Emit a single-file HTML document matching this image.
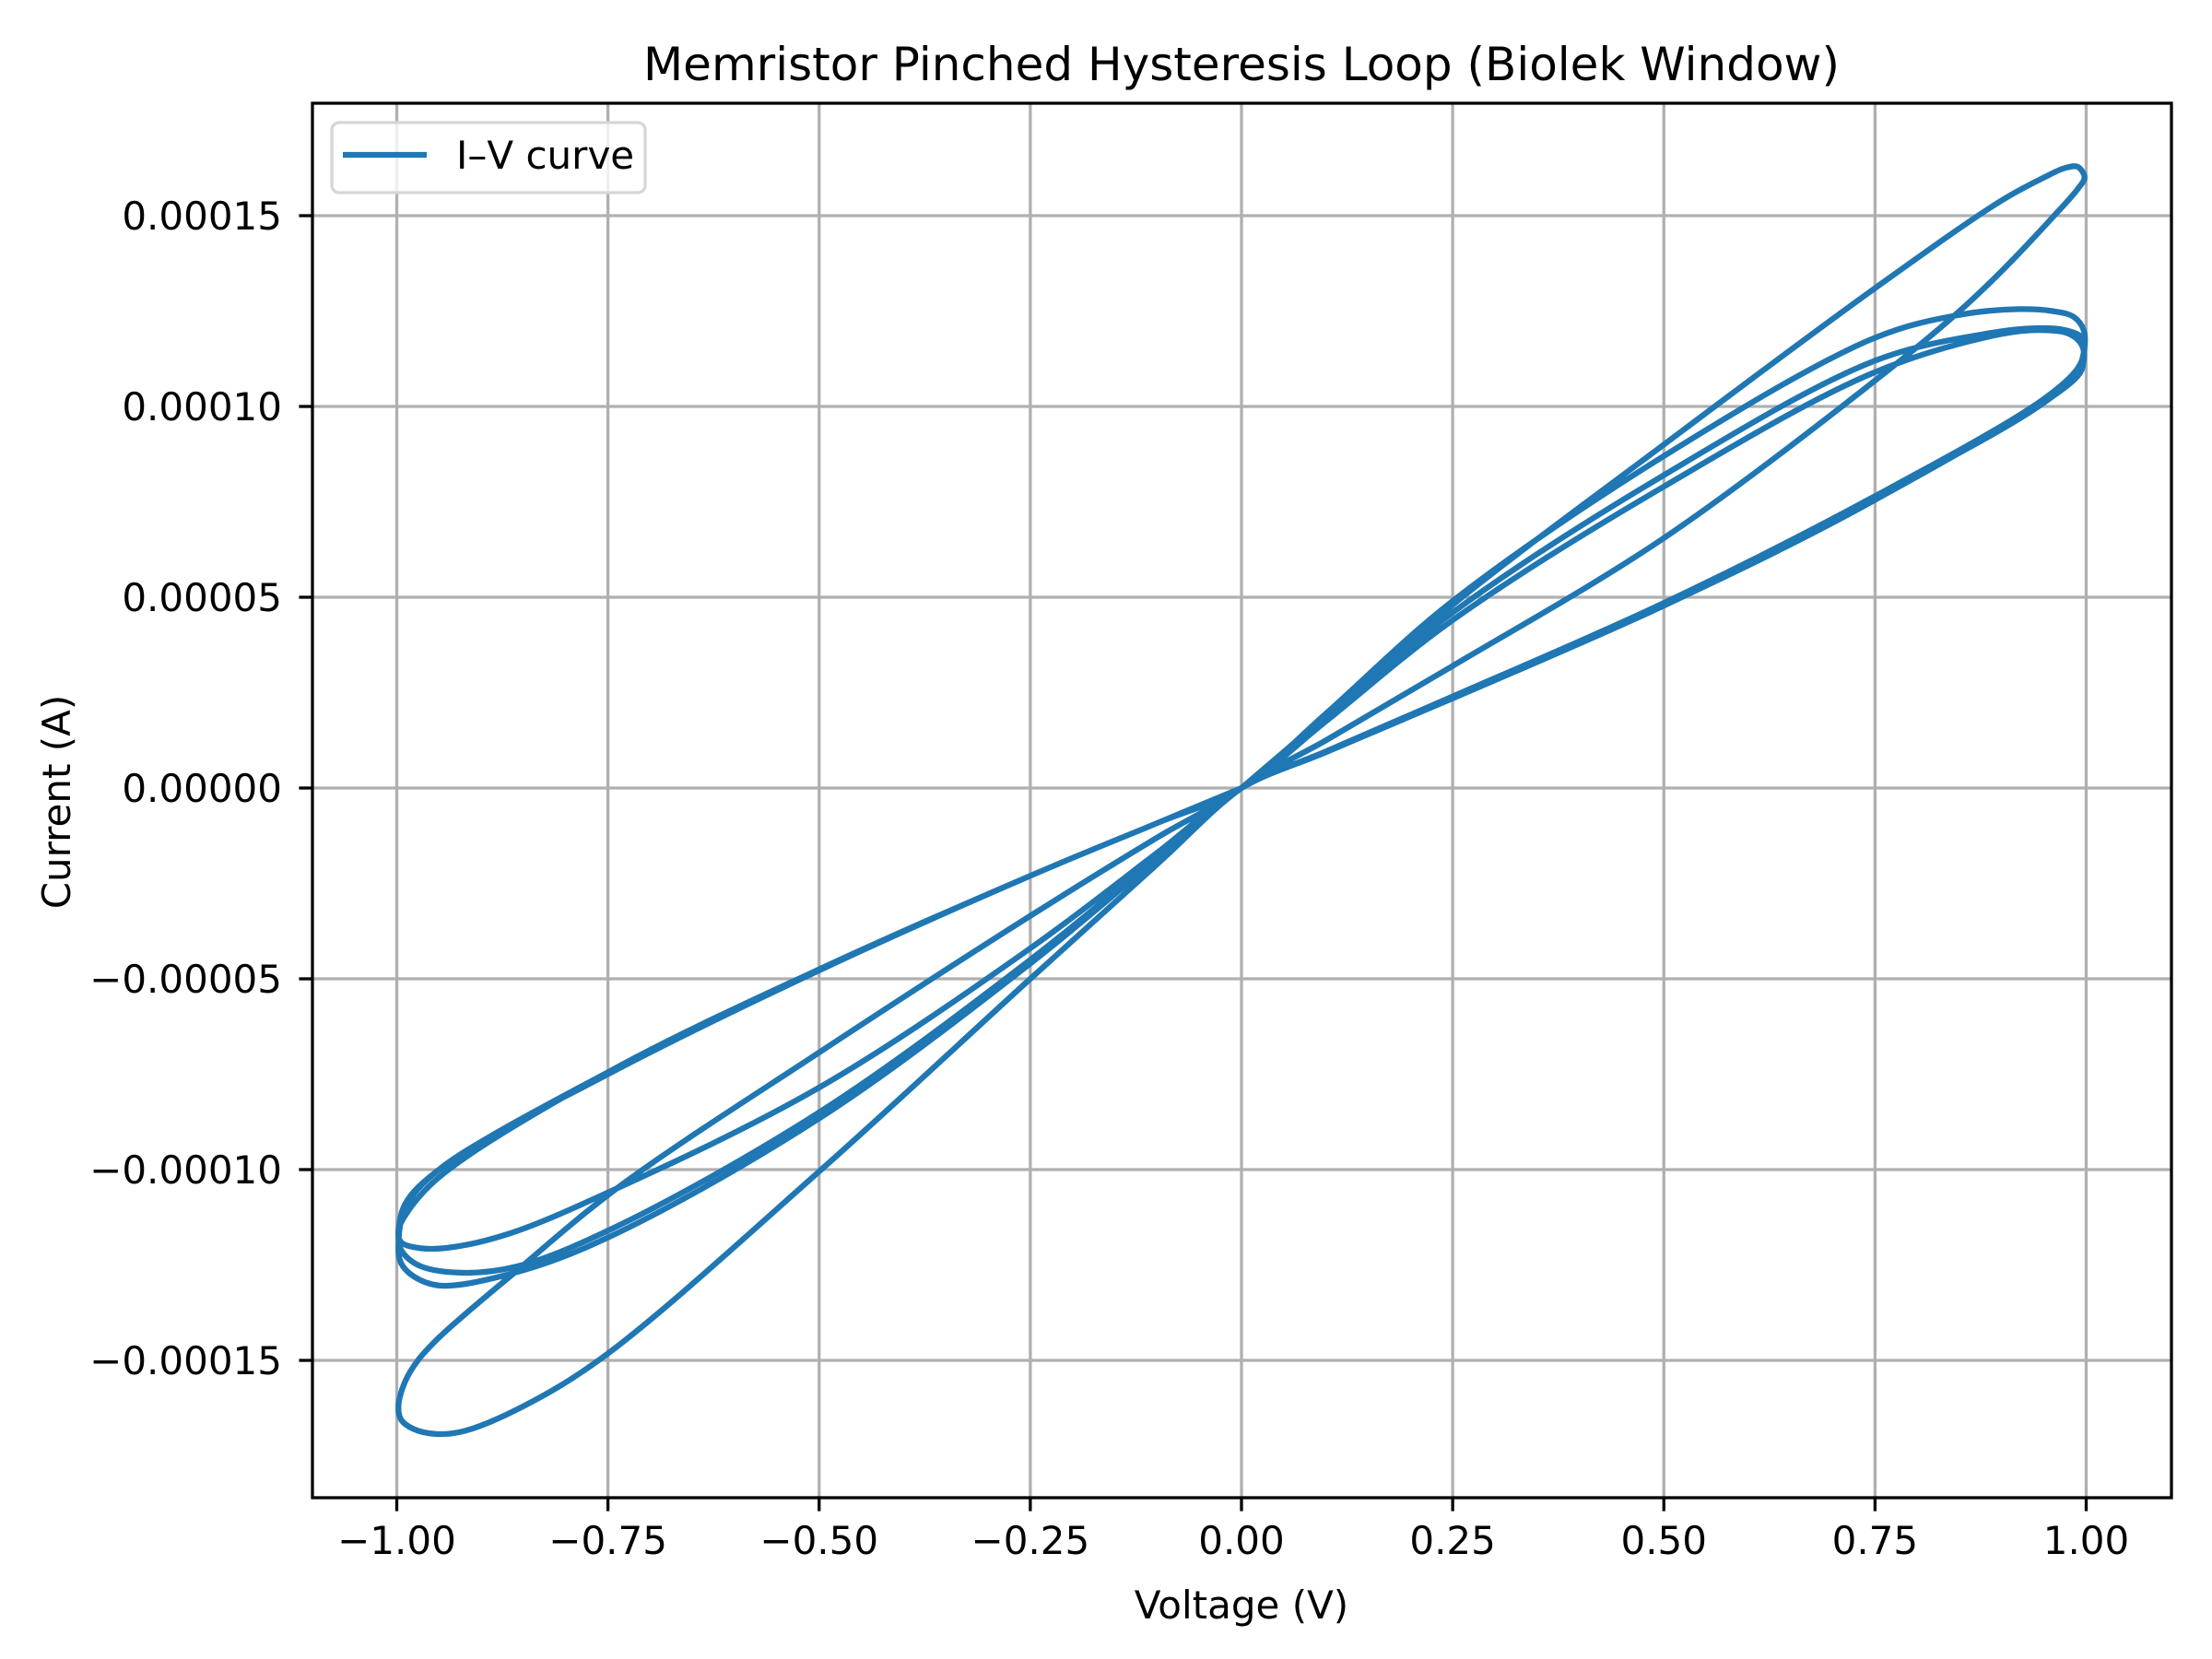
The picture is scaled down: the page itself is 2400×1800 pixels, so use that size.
<!DOCTYPE html>
<html>
<head>
<meta charset="utf-8">
<style>
  html, body { margin: 0; padding: 0; background: #ffffff; }
  svg { display: block; font-family: "DejaVu Sans", "Liberation Sans", sans-serif; }
</style>
</head>
<body>
<svg id="chart" width="2400" height="1800" viewBox="0 0 2400 1800" xmlns="http://www.w3.org/2000/svg">
  <rect x="0" y="0" width="2400" height="1800" fill="#ffffff"/>
  <g id="grid"></g>
  <g id="plot"></g>
  <rect x="339" y="112" width="2017" height="1513" fill="none" stroke="#000" stroke-width="3.3"/>
  <g id="xticks"></g>
  <g id="yticks"></g>
  <text x="1347" y="87" font-size="50" text-anchor="middle" fill="#000">Memristor Pinched Hysteresis Loop (Biolek Window)</text>
  <text x="1347" y="1756" font-size="42" text-anchor="middle" fill="#000">Voltage (V)</text>
  <text x="0" y="0" font-size="42" text-anchor="middle" fill="#000" transform="translate(76,870) rotate(-90)">Current (A)</text>
  <g>
    <rect x="360" y="133" width="340" height="76" rx="8" ry="8" fill="#ffffff" fill-opacity="0.8" stroke="#d6d6d6" stroke-width="3.3"/>
    <line x1="372" y1="168" x2="463" y2="168" stroke="#1f77b4" stroke-width="6.25"/>
    <text x="495" y="183" font-size="42" fill="#000">I–V curve</text>
  </g>
</svg>
<script>
// ---- tick data ----
const xTickValues = [-1.0, -0.75, -0.5, -0.25, 0.0, 0.25, 0.5, 0.75, 1.0];
const xTickLabels = ["\u22121.00", "\u22120.75", "\u22120.50", "\u22120.25", "0.00", "0.25", "0.50", "0.75", "1.00"];
const yTickValues = [-0.00015, -0.0001, -0.00005, 0, 0.00005, 0.0001, 0.00015];
const yTickLabels = ["\u22120.00015", "\u22120.00010", "\u22120.00005", "0.00000", "0.00005", "0.00010", "0.00015"];

// ---- series data: voltage (V) and current (A), in time order, per cycle ----
const cycle1V = [0, 0.1, 0.25, 0.5, 0.75, 0.9, 0.95, 0.975, 0.99, 0.998, 0.99, 0.96, 0.9, 0.85, 0.773, 0.5, 0.25, 0.1, 0,
                 -0.1, -0.25, -0.5, -0.755, -0.85, -0.92, -0.953, -0.98, -0.995, -0.998, -0.99, -0.975, -0.95, -0.917, -0.866, -0.74, -0.5, -0.25, -0.1, 0];
const cycle1I = [0, 1.9e-5, 4.8e-5, 9.0e-5, 1.31e-4, 1.54e-4, 1.6e-4, 1.625e-4, 1.628e-4, 1.6e-4, 1.57e-4, 1.495e-4, 1.355e-4, 1.25e-4, 1.108e-4, 6.55e-5, 3.2e-5, 1.25e-5, 0,
                 -2.0e-5, -5.0e-5, -1.005e-4, -1.49e-4, -1.62e-4, -1.685e-4, -1.693e-4, -1.68e-4, -1.655e-4, -1.62e-4, -1.555e-4, -1.5e-4, -1.44e-4, -1.375e-4, -1.28e-4, -1.05e-4, -6.93e-5, -3.35e-5, -1.3e-5, 0];
const cycle2V = [0.1, 0.25, 0.5, 0.75, 0.85, 0.92, 0.96, 0.985, 0.997, 0.997, 0.99, 0.95, 0.75, 0.5, 0.25, 0.1, 0,
                 -0.1, -0.25, -0.5, -0.75, -0.86, -0.949, -0.98, -0.995, -0.998, -0.99, -0.95, -0.75, -0.5, -0.25, -0.1, 0];
const cycle2I = [1.95e-5, 4.9e-5, 8.7e-5, 1.18e-4, 1.24e-4, 1.255e-4, 1.25e-4, 1.235e-4, 1.2e-4, 1.14e-4, 1.1e-4, 1.02e-4, 7.65e-5, 4.85e-5, 2.4e-5, 9.6e-6, 0,
                 -1.85e-5, -4.6e-5, -8.66e-5, -1.178e-4, -1.27e-4, -1.304e-4, -1.28e-4, -1.245e-4, -1.2e-4, -1.1e-4, -1.0e-4, -7.5e-5, -4.78e-5, -2.3e-5, -9.2e-6, 0];
const cycle3V = [0.1, 0.25, 0.5, 0.75, 0.88, 0.94, 0.975, 0.995, 0.997, 0.99, 0.95, 0.75, 0.5, 0.25, 0.1, 0,
                 -0.1, -0.25, -0.5, -0.75, -0.86, -0.928, -0.975, -0.995, -0.998, -0.99, -0.95, -0.75, -0.5, -0.25, -0.1, 0];
const cycle3I = [1.85e-5, 4.6e-5, 8.2e-5, 1.12e-4, 1.19e-4, 1.205e-4, 1.2e-4, 1.18e-4, 1.14e-4, 1.09e-4, 1.01e-4, 7.6e-5, 4.8e-5, 2.38e-5, 9.5e-6, 0,
                 -1.8e-5, -4.5e-5, -8.5e-5, -1.16e-4, -1.255e-4, -1.27e-4, -1.25e-4, -1.21e-4, -1.17e-4, -1.09e-4, -1.0e-4, -7.45e-5, -4.75e-5, -2.3e-5, -9.2e-6, 0];
const cycle4V = [0.1, 0.25, 0.5, 0.75, 0.9, 0.95, 0.98, 0.995, 0.997, 0.99, 0.75, 0.5, 0.25, 0.1, 0,
                 -0.1, -0.25, -0.5, -0.75, -0.87, -0.94, -0.975, -0.995, -0.998, -0.99, -0.95, -0.75, -0.5, -0.25, -0.1, 0];
const cycle4I = [1.75e-5, 4.4e-5, 7.9e-5, 1.09e-4, 1.19e-4, 1.2e-4, 1.19e-4, 1.16e-4, 1.12e-4, 1.08e-4, 7.55e-5, 4.78e-5, 2.35e-5, 9.4e-6, 0,
                 -1.7e-5, -4.2e-5, -7.85e-5, -1.06e-4, -1.17e-4, -1.205e-4, -1.205e-4, -1.19e-4, -1.16e-4, -1.12e-4, -1.02e-4, -7.45e-5, -4.75e-5, -2.3e-5, -9.2e-6, 0];

// ---- axes ----
const AX = { left: 339, right: 2356, top: 112, bottom: 1625 };
const X0 = 1347, XS = 916.5;        // px per volt
const Y0 = 855, YS = 207 / 0.00005; // px per amp
function xScale(v) { return X0 + v * XS; }
function yScale(i) { return Y0 - i * YS; }

const NS = "http://www.w3.org/2000/svg";
const grid = document.getElementById("grid");
const xt = document.getElementById("xticks");
const yt = document.getElementById("yticks");
const plot = document.getElementById("plot");

function mk(tag, attrs) {
  const e = document.createElementNS(NS, tag);
  for (const k in attrs) e.setAttribute(k, attrs[k]);
  return e;
}

xTickValues.forEach((v, k) => {
  const x = xScale(v);
  const g = mk("line", { x1: x, y1: AX.top, x2: x, y2: AX.bottom, stroke: "#b0b0b0", "stroke-width": 3.3 });
  
  
  grid.appendChild(g);
  const t = mk("line", { x1: x, y1: AX.bottom, x2: x, y2: AX.bottom + 14.6, stroke: "#000", "stroke-width": 3.3 });
  
  
  xt.appendChild(t);
  const l = mk("text", { x: x, y: 1686, "font-size": 42, "text-anchor": "middle", fill: "#000" });
  l.textContent = xTickLabels[k];
  
  
  xt.appendChild(l);
});

yTickValues.forEach((v, k) => {
  const y = yScale(v);
  const g = mk("line", { x1: AX.left, y1: y, x2: AX.right, y2: y, stroke: "#b0b0b0", "stroke-width": 3.3 });
  
  
  grid.appendChild(g);
  const t = mk("line", { x1: AX.left - 14.6, y1: y, x2: AX.left, y2: y, stroke: "#000", "stroke-width": 3.3 });
  
  
  yt.appendChild(t);
  const l = mk("text", { x: 306, y: y + 15, "font-size": 42, "text-anchor": "end", fill: "#000" });
  l.textContent = yTickLabels[k];
  
  
  yt.appendChild(l);
});

// ---- series path (centripetal Catmull-Rom through data points) ----
const allV = [].concat(cycle1V, cycle2V, cycle3V, cycle4V);
const allI = [].concat(cycle1I, cycle2I, cycle3I, cycle4I);
const pts = allV.map((v, k) => [xScale(v), yScale(allI[k])]);
function dist(a, b) { return Math.hypot(a[0] - b[0], a[1] - b[1]); }
let d = "M" + pts[0][0].toFixed(2) + "," + pts[0][1].toFixed(2);
for (let k = 0; k < pts.length - 1; k++) {
  const p0 = pts[Math.max(0, k - 1)], p1 = pts[k], p2 = pts[k + 1], p3 = pts[Math.min(pts.length - 1, k + 2)];
  let d1 = Math.sqrt(dist(p0, p1)), d2 = Math.sqrt(dist(p1, p2)), d3 = Math.sqrt(dist(p2, p3));
  if (d1 < 1e-6) d1 = d2;
  if (d3 < 1e-6) d3 = d2;
  if (d2 < 1e-6) continue;
  const b1 = [0, 1].map(j => (d1 * d1 * p2[j] - d2 * d2 * p0[j] + (2 * d1 * d1 + 3 * d1 * d2 + d2 * d2) * p1[j]) / (3 * d1 * (d1 + d2)));
  const b2 = [0, 1].map(j => (d3 * d3 * p1[j] - d2 * d2 * p3[j] + (2 * d3 * d3 + 3 * d3 * d2 + d2 * d2) * p2[j]) / (3 * d3 * (d3 + d2)));
  d += " C" + b1[0].toFixed(2) + "," + b1[1].toFixed(2) + " " + b2[0].toFixed(2) + "," + b2[1].toFixed(2) + " " + p2[0].toFixed(2) + "," + p2[1].toFixed(2);
}
const path = mk("path", { d: d, fill: "none", stroke: "#1f77b4", "stroke-width": 6.25, "stroke-linejoin": "round", "stroke-linecap": "round" });


plot.appendChild(path);
</script>
</body>
</html>
